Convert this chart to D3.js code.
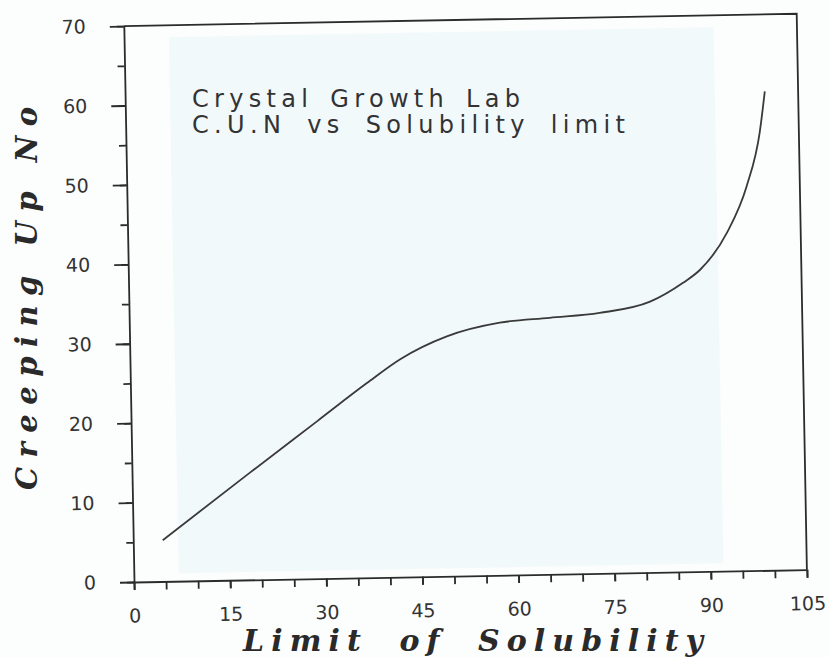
<!DOCTYPE html>
<html>
<head>
<meta charset="utf-8">
<script src="https://cdn.jsdelivr.net/npm/d3@7/dist/d3.min.js"></script>
<style>
  html, body { margin: 0; padding: 0; background: #fcfdfd; }
  svg { display: block; }
</style>
</head>
<body>
<svg id="chart" width="829" height="657"></svg>
<script>
// ---- data ----
const solubility = [4.6, 18.4, 29.0, 36.9, 42.1, 49.5, 57.8, 65.6, 73.4, 81.3, 86.5, 89.2, 93.5, 96.7, 98.9, 99.8];
const creepingUp = [5.2, 13.5, 19.8, 24.5, 27.4, 30.2, 31.8, 32.3, 32.8, 34.1, 36.4, 38.0, 42.6, 48.4, 55.2, 60.3];
const xTickLabels = [0, 15, 30, 45, 60, 75, 90, 105];
const xMinorTicks = d3.range(0, 106, 5);
const yTickLabels = [0, 10, 20, 30, 40, 50, 60, 70];
const yMinorTicks = d3.range(0, 71, 5);
const titleLines = ["Crystal Growth Lab", "C.U.N vs Solubility limit"];
const xTitle = "Limit of Solubility";
const yTitle = "Creeping Up No";

// ---- layout ----
const svg = d3.select("#chart");
const ox = 134, oy = 582;
const x = d3.scaleLinear().domain([0, 105]).range([ox, ox + 673]);
const y = d3.scaleLinear().domain([0, 70]).range([oy, oy - 556]);
const ink = "#2b2b2b";

const plot = svg.append("g").attr("transform", `rotate(-1.05, ${ox}, ${oy})`);

// faint paper tint
plot.append("rect")
  .attr("x", x(7)).attr("y", y(68.5))
  .attr("width", x(92) - x(7)).attr("height", y(1) - y(68.5))
  .attr("fill", "#f2f9fb");

// minor ticks
plot.append("g").attr("transform", `translate(${ox},0)`)
  .call(d3.axisLeft(y).tickValues(yMinorTicks).tickSize(7).tickFormat(""))
  .call(g => g.select(".domain").remove());
plot.append("g").attr("transform", `translate(0,${oy})`)
  .call(d3.axisBottom(x).tickValues(xMinorTicks).tickSize(8).tickFormat(""))
  .call(g => g.select(".domain").remove());

// major axes
plot.append("g").attr("transform", `translate(${ox},0)`)
  .call(d3.axisLeft(y).tickValues(yTickLabels).tickSize(14).tickPadding(24).tickSizeOuter(0));
plot.append("g").attr("transform", `translate(0,${oy})`)
  .call(d3.axisBottom(x).tickValues(xTickLabels).tickSize(8).tickPadding(19).tickSizeOuter(0));

plot.selectAll(".tick line, .domain").attr("stroke", ink).attr("stroke-width", 1.8);
plot.selectAll(".tick text")
  .attr("fill", "#333")
  .style("font-family", "'DejaVu Sans', sans-serif")
  .style("font-size", "19px");

// frame top and right
plot.append("path")
  .attr("d", `M${x(0)},${y(70)}H${x(105)}V${y(0)}`)
  .attr("fill", "none").attr("stroke", ink).attr("stroke-width", 1.8);

// curve
const pts = solubility.map((s, i) => [s, creepingUp[i]]);
plot.append("path")
  .datum(pts)
  .attr("fill", "none")
  .attr("stroke", "#3a3a3a")
  .attr("stroke-width", 1.8)
  .attr("d", d3.line().x(d => x(d[0])).y(d => y(d[1])).curve(d3.curveMonotoneX));

// title inside plot
const tFont = "'DejaVu Sans', sans-serif";
svg.append("text").attr("x", 192).attr("y", 107)
  .attr("textLength", 328).attr("lengthAdjust", "spacing")
  .style("font-family", tFont).style("font-size", "24px").style("word-spacing", "4px").attr("fill", "#333")
  .text(titleLines[0]);
svg.append("text").attr("x", 192).attr("y", 133)
  .attr("textLength", 433).attr("lengthAdjust", "spacing")
  .style("font-family", tFont).style("font-size", "24px").style("word-spacing", "8px").attr("fill", "#333")
  .text(titleLines[1]);

// axis titles
const aFont = "'DejaVu Serif', serif";
svg.append("text").attr("x", 243).attr("y", 651)
  .attr("textLength", 460).attr("lengthAdjust", "spacing")
  .style("font-family", aFont).style("font-style", "italic").style("font-weight", "bold")
  .style("font-size", "30px").style("word-spacing", "14px").attr("fill", "#2a2a2a")
  .text(xTitle);
svg.append("text")
  .attr("transform", "translate(37,490) rotate(-90)")
  .attr("textLength", 383).attr("lengthAdjust", "spacing")
  .style("font-family", aFont).style("font-style", "italic").style("font-weight", "bold")
  .style("font-size", "29px").attr("fill", "#2a2a2a")
  .text(yTitle);
</script>
</body>
</html>
